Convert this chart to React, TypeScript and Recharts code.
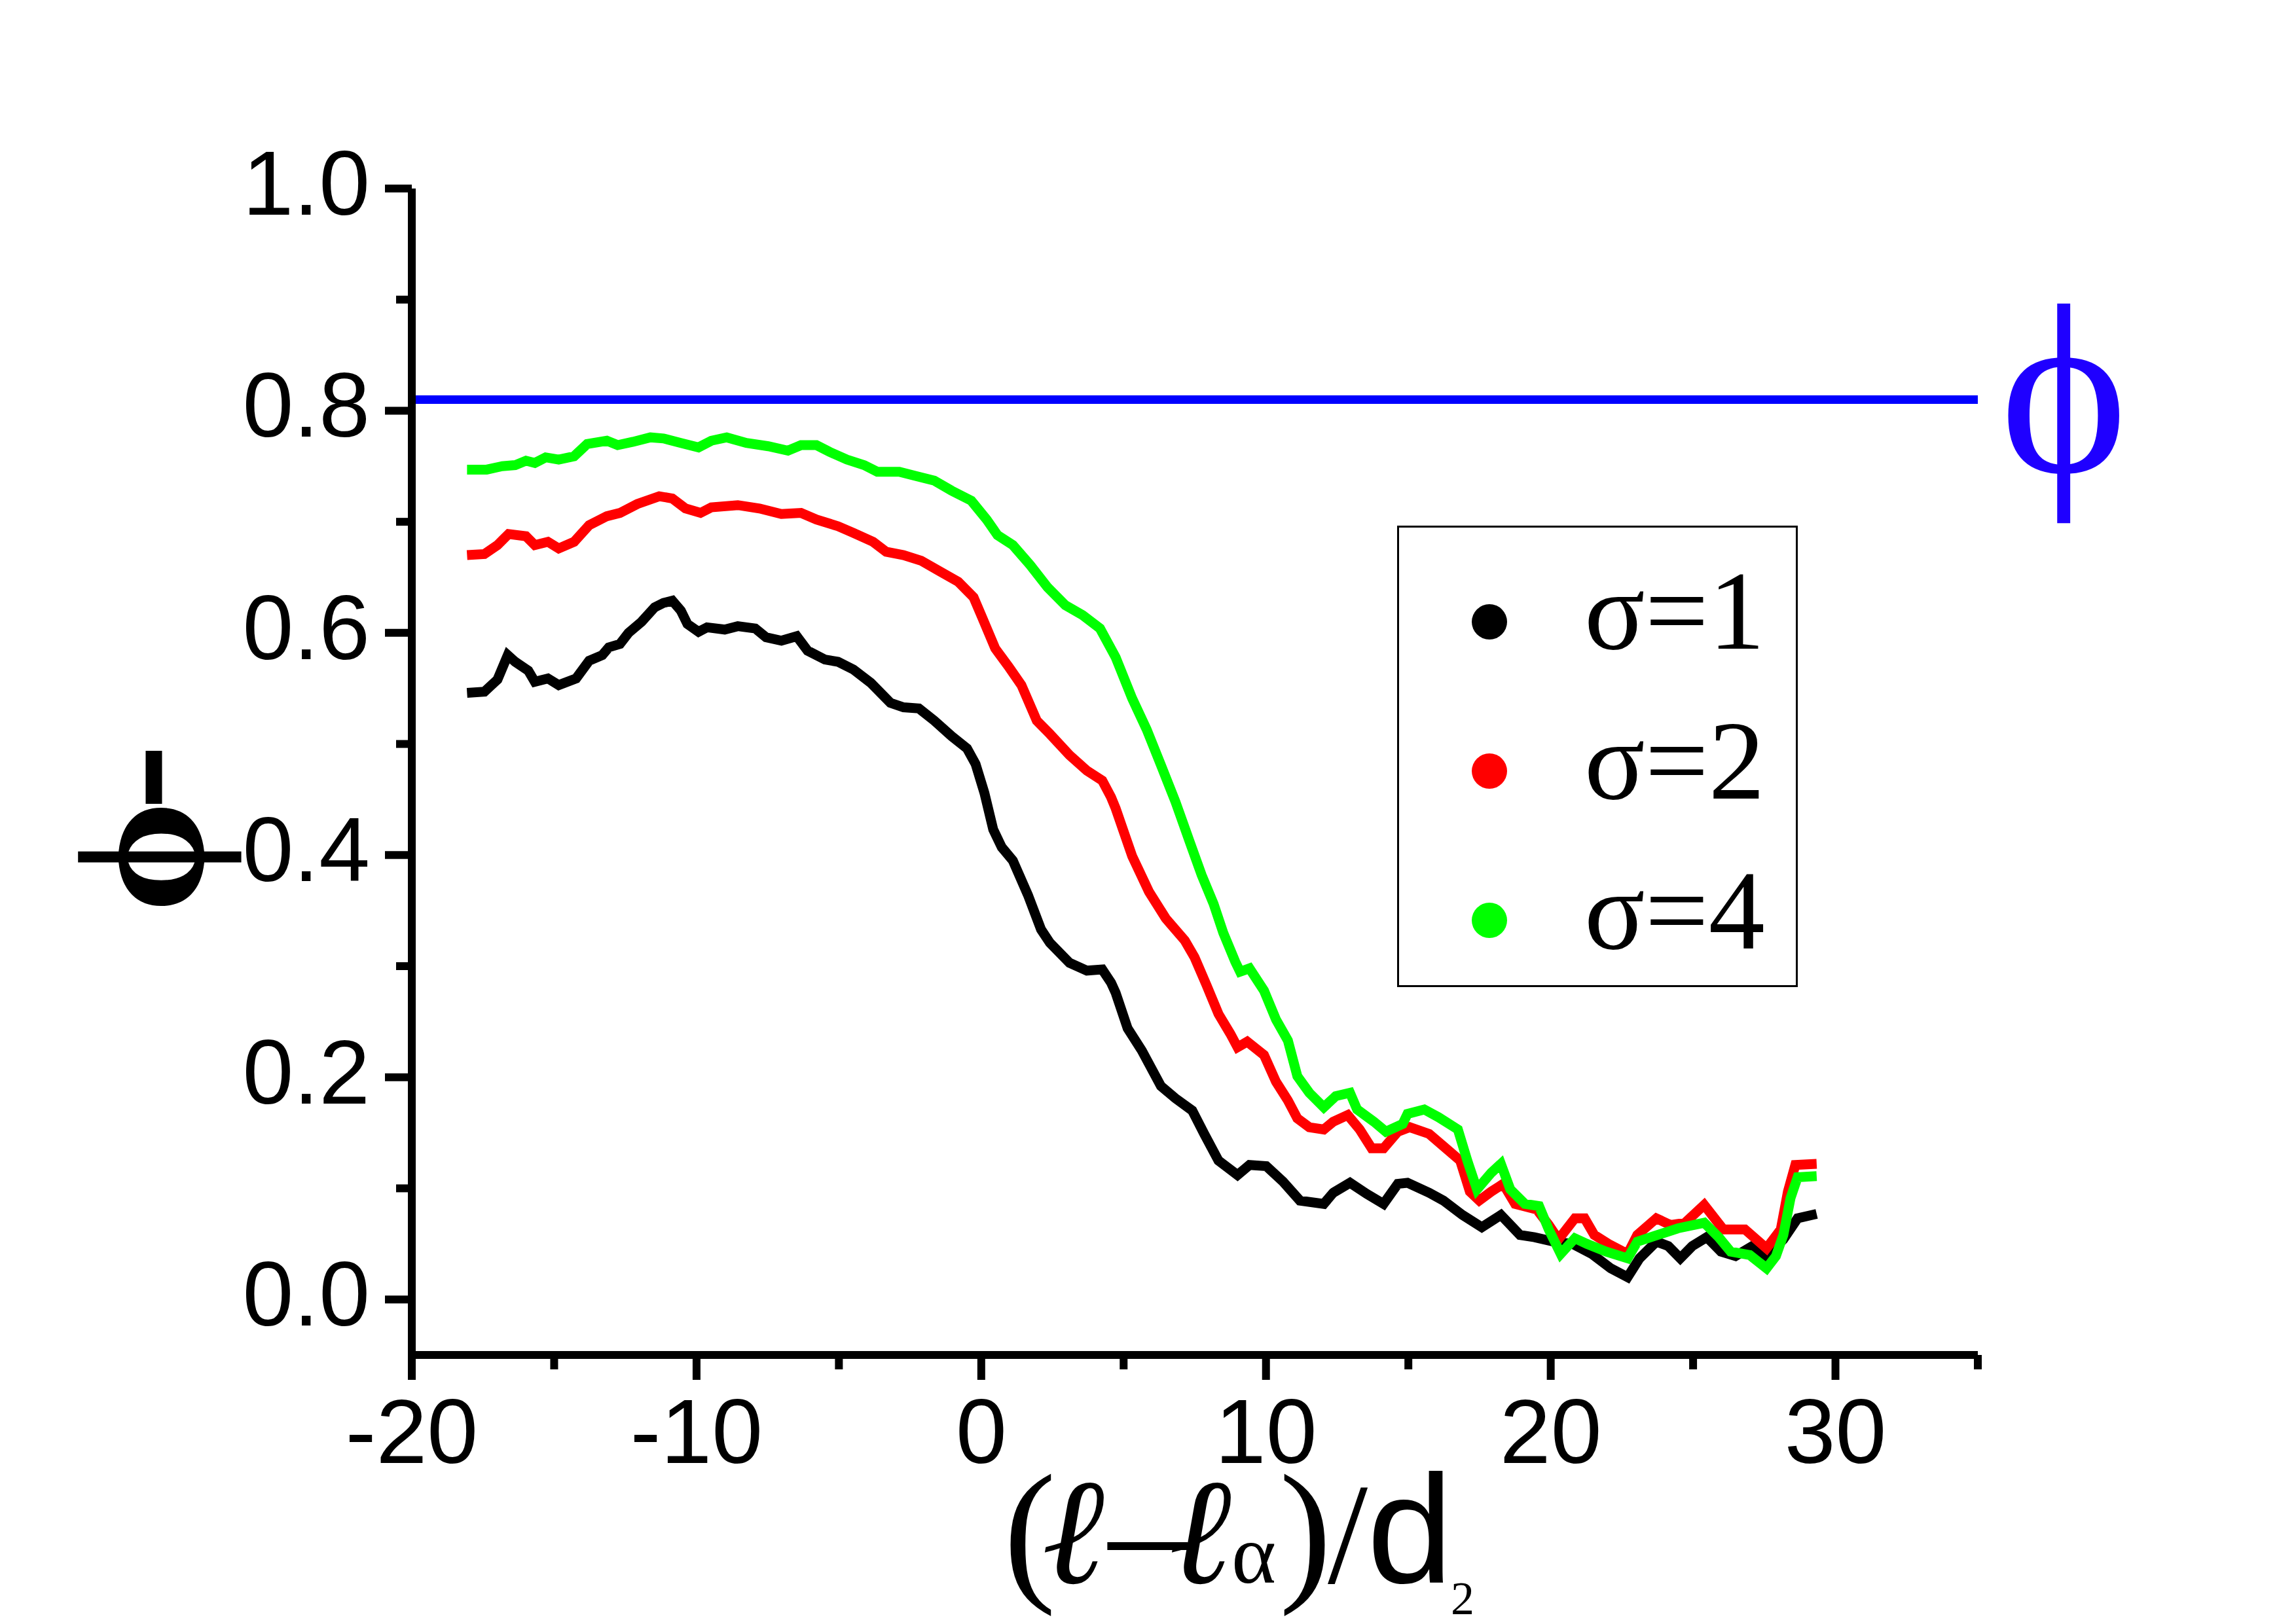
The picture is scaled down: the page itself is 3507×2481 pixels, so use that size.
import { LineChart, Line, XAxis, YAxis, ReferenceLine, Legend, Label } from "recharts";

const X_TICKS = [-20, -15, -10, -5, 0, 5, 10, 15, 20, 25, 30, 35];
const Y_TICKS = [0, 0.1, 0.2, 0.3, 0.4, 0.5, 0.6, 0.7, 0.8, 0.9, 1.0];
const PHI_LEVEL = 0.81;
const SERIES_NAMES = ["σ=1", "σ=2", "σ=4"];
const SERIES_COLORS = ["#000000", "#ff0000", "#00ff00"];

// [x, phi-bar]
const SIGMA1: [number, number][] = [
  [-18.06, 0.546], [-17.45, 0.547], [-16.99, 0.558], [-16.63, 0.58], [-16.37, 0.574], [-15.91, 0.566],
  [-15.68, 0.556], [-15.22, 0.559], [-14.84, 0.553], [-14.23, 0.559], [-13.77, 0.575], [-13.31, 0.58],
  [-13.08, 0.587], [-12.69, 0.59], [-12.39, 0.6], [-11.93, 0.61], [-11.47, 0.623], [-11.16, 0.627],
  [-10.85, 0.629], [-10.55, 0.62], [-10.32, 0.608], [-9.93, 0.601], [-9.63, 0.605], [-9.01, 0.603],
  [-8.55, 0.606], [-7.94, 0.604], [-7.56, 0.596], [-7.02, 0.593], [-6.48, 0.597], [-6.1, 0.584],
  [-5.49, 0.576], [-5.03, 0.574], [-4.49, 0.567], [-3.88, 0.555], [-3.19, 0.537], [-2.73, 0.533],
  [-2.19, 0.532], [-1.65, 0.521], [-1.04, 0.507], [-0.5, 0.496], [-0.2, 0.482], [0.11, 0.456],
  [0.42, 0.423], [0.72, 0.407], [1.11, 0.395], [1.64, 0.364], [2.1, 0.333], [2.41, 0.321],
  [3.1, 0.303], [3.71, 0.296], [4.25, 0.297], [4.56, 0.285], [4.72, 0.276], [5.14, 0.244],
  [5.64, 0.224], [6.31, 0.192], [6.82, 0.181], [7.41, 0.17], [7.83, 0.149], [8.33, 0.125],
  [9.0, 0.112], [9.42, 0.121], [10.01, 0.12], [10.6, 0.106], [11.19, 0.089], [12.03, 0.086],
  [12.36, 0.096], [12.95, 0.105], [13.54, 0.095], [14.13, 0.086], [14.63, 0.104], [14.97, 0.105],
  [15.73, 0.096], [16.23, 0.089], [16.9, 0.076], [17.58, 0.065], [18.25, 0.076], [18.92, 0.058],
  [19.43, 0.056], [20.1, 0.052], [20.77, 0.05], [21.44, 0.041], [22.11, 0.028], [22.7, 0.02],
  [23.12, 0.037], [23.71, 0.052], [24.13, 0.048], [24.55, 0.037], [24.97, 0.048], [25.48, 0.056],
  [25.98, 0.043], [26.49, 0.039], [27.08, 0.048], [27.58, 0.039], [28.17, 0.054], [28.67, 0.073],
  [29.34, 0.077],
];

const SIGMA2: [number, number][] = [
  [-18.06, 0.67], [-17.45, 0.671], [-16.99, 0.679], [-16.6, 0.689], [-15.99, 0.687], [-15.68, 0.679],
  [-15.22, 0.682], [-14.84, 0.676], [-14.3, 0.682], [-13.77, 0.697], [-13.15, 0.705], [-12.69, 0.708],
  [-12.08, 0.716], [-11.31, 0.723], [-10.85, 0.721], [-10.39, 0.712], [-9.86, 0.708], [-9.48, 0.713],
  [-8.55, 0.715], [-7.79, 0.712], [-7.02, 0.707], [-6.33, 0.708], [-5.79, 0.702], [-5.03, 0.696],
  [-4.49, 0.69], [-3.8, 0.682], [-3.34, 0.673], [-2.73, 0.67], [-2.11, 0.665], [-1.5, 0.656],
  [-0.81, 0.646], [-0.27, 0.632], [0.03, 0.614], [0.49, 0.586], [0.95, 0.57], [1.41, 0.553],
  [1.95, 0.521], [2.41, 0.509], [3.1, 0.49], [3.71, 0.476], [4.25, 0.467], [4.56, 0.452],
  [4.72, 0.442], [5.3, 0.399], [5.89, 0.367], [6.48, 0.343], [7.15, 0.323], [7.49, 0.308],
  [7.91, 0.283], [8.33, 0.257], [8.75, 0.239], [9.0, 0.227], [9.34, 0.232], [9.93, 0.22],
  [10.35, 0.196], [10.77, 0.179], [11.1, 0.163], [11.52, 0.155], [12.03, 0.153], [12.36, 0.16],
  [12.87, 0.166], [13.29, 0.153], [13.71, 0.136], [14.13, 0.136], [14.63, 0.151], [15.05, 0.155],
  [15.73, 0.149], [16.23, 0.138], [16.82, 0.125], [17.16, 0.097], [17.49, 0.089], [17.91, 0.097],
  [18.33, 0.104], [18.75, 0.086], [19.51, 0.081], [19.93, 0.067], [20.27, 0.054], [20.85, 0.073],
  [21.19, 0.073], [21.53, 0.058], [22.03, 0.05], [22.7, 0.041], [23.04, 0.058], [23.71, 0.073],
  [24.21, 0.067], [24.72, 0.069], [25.39, 0.085], [26.06, 0.063], [26.82, 0.063], [27.58, 0.046],
  [28.08, 0.063], [28.33, 0.097], [28.59, 0.121], [29.34, 0.122],
];

const SIGMA4: [number, number][] = [
  [-18.06, 0.747], [-17.37, 0.747], [-16.83, 0.75], [-16.37, 0.751], [-15.99, 0.755], [-15.68, 0.753],
  [-15.3, 0.758], [-14.84, 0.756], [-14.3, 0.759], [-13.84, 0.77], [-13.15, 0.773], [-12.77, 0.769],
  [-12.23, 0.772], [-11.62, 0.776], [-11.16, 0.775], [-10.55, 0.771], [-9.93, 0.767], [-9.48, 0.773],
  [-8.94, 0.776], [-8.25, 0.771], [-7.48, 0.768], [-6.79, 0.764], [-6.33, 0.769], [-5.79, 0.769],
  [-5.33, 0.763], [-4.72, 0.756], [-4.11, 0.751], [-3.65, 0.745], [-2.88, 0.745], [-2.27, 0.741],
  [-1.65, 0.737], [-1.04, 0.728], [-0.35, 0.719], [0.19, 0.702], [0.57, 0.688], [1.11, 0.679],
  [1.72, 0.661], [2.33, 0.641], [2.95, 0.625], [3.56, 0.616], [4.17, 0.604], [4.72, 0.578],
  [5.3, 0.541], [5.81, 0.513], [6.31, 0.481], [6.82, 0.448], [7.32, 0.412], [7.74, 0.382],
  [8.16, 0.356], [8.5, 0.33], [8.92, 0.304], [9.09, 0.295], [9.42, 0.298], [9.93, 0.278],
  [10.35, 0.252], [10.77, 0.233], [11.1, 0.201], [11.52, 0.186], [12.03, 0.173], [12.45, 0.183],
  [12.95, 0.186], [13.2, 0.171], [13.79, 0.16], [14.21, 0.151], [14.8, 0.158], [14.97, 0.167],
  [15.56, 0.171], [16.06, 0.164], [16.74, 0.153], [17.07, 0.125], [17.41, 0.099], [17.91, 0.114],
  [18.25, 0.122], [18.58, 0.099], [19.09, 0.086], [19.59, 0.084], [19.93, 0.063], [20.35, 0.041],
  [20.85, 0.055], [21.27, 0.05], [21.95, 0.043], [22.7, 0.037], [23.04, 0.052], [23.63, 0.057],
  [24.47, 0.064], [25.39, 0.069], [25.9, 0.056], [26.32, 0.043], [26.99, 0.04], [27.58, 0.028],
  [27.91, 0.039], [28.17, 0.058], [28.42, 0.091], [28.67, 0.11], [29.34, 0.111],
];

const SERIES = [SIGMA1, SIGMA2, SIGMA4];

const SANS = "'Liberation Sans', Arial, sans-serif";
const SERIF = "'Liberation Serif', 'Times New Roman', serif";
const SCRIPT_L = "'DejaVu Serif', serif";
const PHI = "ϕ"; // straight-stroke phi

const toPoints = (pts: [number, number][]) => pts.map(([x, y]) => ({ x, y }));

const XTick = ({ x, y, payload }: any) => {
  const v = payload.value;
  const major = v % 10 === 0 && v <= 30;
  return (
    <g>
      <line x1={x} x2={x} y1={y} y2={y + (major ? 38 : 22)} stroke="#000" strokeWidth={12} />
      {major && (
        <text x={x} y={y + 165} textAnchor="middle" fontSize={140} fontFamily={SANS} fill="#000">
          {v}
        </text>
      )}
    </g>
  );
};

const YTick = ({ x, y, payload }: any) => {
  const v = payload.value;
  const major = Math.round(v * 10) % 2 === 0;
  return (
    <g>
      <line x1={x - (major ? 41 : 24)} x2={x} y1={y} y2={y} stroke="#000" strokeWidth={12} />
      {major && (
        <text x={x - 64} y={y + 40} textAnchor="end" fontSize={140} fontFamily={SANS} fill="#000">
          {v.toFixed(1)}
        </text>
      )}
    </g>
  );
};

// rotated bold phi with its bar, as in the original figure
const YTitle = ({ viewBox }: any) => {
  const cx = viewBox.x + 246;
  const cy = viewBox.y + 1021;
  return (
    <g>
      <text
        transform={`translate(${cx},${cy}) rotate(-90)`}
        x={0}
        y={64}
        textAnchor="middle"
        fontSize={275}
        fontWeight="bold"
        fontFamily={SERIF}
        fill="#000"
      >
        {PHI}
      </text>
      <line x1={cx - 11} x2={cx - 11} y1={cy - 162} y2={cy - 81} stroke="#000" strokeWidth={25} />
    </g>
  );
};

const XTitle = ({ viewBox }: any) => {
  const left = viewBox.x;
  const base = viewBox.y + 348;
  return (
    <text fill="#000" fontFamily={SERIF}>
      <tspan x={left + 904} y={base} fontSize={240}>(</tspan>
      <tspan x={left + 966} y={base} fontSize={230} fontWeight="bold" fontStyle="italic" fontFamily={SCRIPT_L}>ℓ</tspan>
      <tspan x={left + 1064} y={base} fontSize={240}>–</tspan>
      <tspan x={left + 1160} y={base} fontSize={230} fontWeight="bold" fontStyle="italic" fontFamily={SCRIPT_L}>ℓ</tspan>
      <tspan x={left + 1252} y={base} fontSize={130}>α</tspan>
      <tspan x={left + 1325} y={base} fontSize={240}>)</tspan>
      <tspan x={left + 1399} y={base} fontSize={220}>/</tspan>
      <tspan x={left + 1459} y={base} fontSize={236} fontFamily={SANS}>d</tspan>
      <tspan x={left + 1587} y={base + 48} fontSize={72}>2</tspan>
    </text>
  );
};

const PhiMark = ({ viewBox }: any) => (
  <text
    x={viewBox.x + viewBox.width + 34}
    y={viewBox.y + 110}
    fontSize={370}
    fontFamily={SERIF}
    fill="#1f00ff"
  >
    {PHI}
  </text>
);

const LegendBox = ({ payload }: any) => (
  <svg width={612} height={705}>
    <rect x={1.5} y={1.5} width={609} height={702} fill="#fff" stroke="#000" strokeWidth={3} />
    {(payload || []).map((p: any, i: number) => (
      <g key={p.value}>
        <circle cx={141} cy={147 + i * 228} r={27} fill={p.color} />
        <text x={286} y={188 + i * 229} fontSize={172} fontFamily={SERIF} fill="#000">
          {p.value}
        </text>
      </g>
    ))}
  </svg>
);

export default function App() {
  return (
    <div style={{ position: "absolute", left: 0, top: 0, background: "#fff" }}>
      <LineChart width={3507} height={2481} margin={{ top: 288, right: 486, bottom: 0, left: 0 }}>
        <XAxis
          dataKey="x"
          type="number"
          domain={[-20, 35]}
          ticks={X_TICKS}
          interval={0}
          height={411}
          tickSize={0}
          tickMargin={0}
          tickLine={false}
          tick={<XTick />}
          axisLine={{ stroke: "#000", strokeWidth: 12 }}
          allowDataOverflow
        >
          <Label content={<XTitle />} />
        </XAxis>
        <YAxis
          type="number"
          domain={[-0.05, 1.0]}
          ticks={Y_TICKS}
          interval={0}
          width={629}
          tickSize={0}
          tickMargin={0}
          tickLine={false}
          tick={<YTick />}
          axisLine={{ stroke: "#000", strokeWidth: 12 }}
          allowDataOverflow
        >
          <Label content={<YTitle />} />
        </YAxis>
        <ReferenceLine y={PHI_LEVEL} stroke="#0000ff" strokeWidth={13}>
          <Label content={<PhiMark />} />
        </ReferenceLine>
        {SERIES.map((pts, i) => (
          <Line
            key={SERIES_NAMES[i]}
            data={toPoints(pts)}
            dataKey="y"
            name={SERIES_NAMES[i]}
            type="linear"
            stroke={SERIES_COLORS[i]}
            strokeWidth={15}
            dot={false}
            activeDot={false}
            isAnimationActive={false}
          />
        ))}
        <Legend
          layout="horizontal"
          verticalAlign="middle"
          align="center"
          content={<LegendBox />}
          wrapperStyle={{ position: "absolute", left: 2134, top: 803, width: 612, height: 705 }}
        />
      </LineChart>
    </div>
  );
}
